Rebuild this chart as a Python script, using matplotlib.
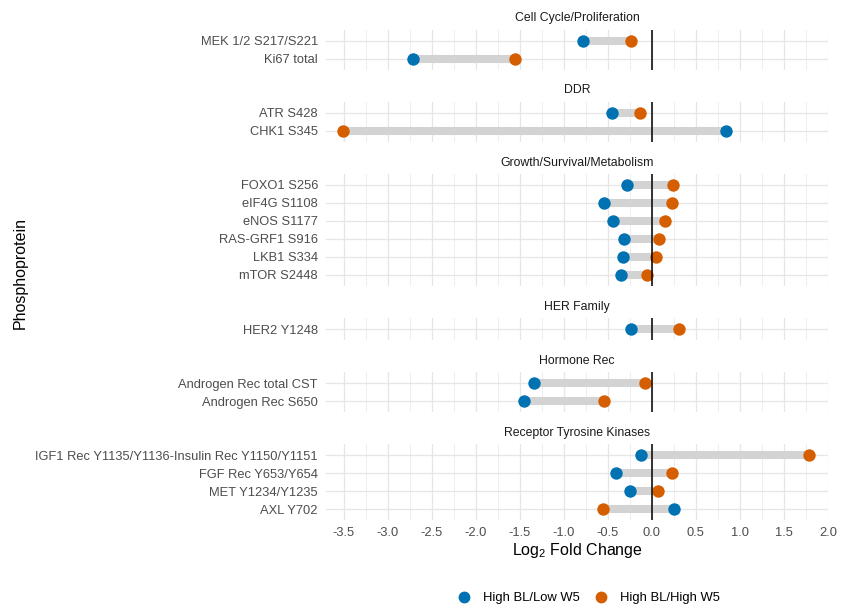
import matplotlib
matplotlib.use("Agg")
import matplotlib.pyplot as plt
from matplotlib.lines import Line2D
import numpy as np

plt.rcParams['font.family'] = ['Liberation Sans', 'DejaVu Sans']
plt.rcParams['mathtext.fontset'] = 'custom'
plt.rcParams['mathtext.rm'] = 'Liberation Sans'
plt.rcParams['axes.unicode_minus'] = False

# pathway groups, in the order they are stacked
groups = ["Cell Cycle/Proliferation", "DDR", "Growth/Survival/Metabolism",
          "HER Family", "Hormone Rec", "Receptor Tyrosine Kinases"]

proteins = [
    ["MEK 1/2 S217/S221", "Ki67 total"],
    ["ATR S428", "CHK1 S345"],
    ["FOXO1 S256", "eIF4G S1108", "eNOS S1177", "RAS-GRF1 S916", "LKB1 S334", "mTOR S2448"],
    ["HER2 Y1248"],
    ["Androgen Rec total CST", "Androgen Rec S650"],
    ["IGF1 Rec Y1135/Y1136-Insulin Rec Y1150/Y1151", "FGF Rec Y653/Y654",
     "MET Y1234/Y1235", "AXL Y702"],
]

# log2 fold change, High BL/Low W5
low_w5 = [
    [-0.78, -2.71],
    [-0.45, 0.84],
    [-0.28, -0.54, -0.44, -0.32, -0.33, -0.35],
    [-0.24],
    [-1.34, -1.45],
    [-0.12, -0.41, -0.25, 0.25],
]

# log2 fold change, High BL/High W5
high_w5 = [
    [-0.24, -1.55],
    [-0.14, -3.51],
    [0.24, 0.23, 0.15, 0.08, 0.05, -0.06],
    [0.31],
    [-0.08, -0.54],
    [1.78, 0.23, 0.07, -0.56],
]

blue = "#0072B2"
orange = "#D55E00"
W, H = 860, 606

fig = plt.figure(figsize=(8.6, 6.06), dpi=100)

row_px = 18.0
gap_px = 32.5
left_px, right_px = 326, 828
top = 29.9
axes = []
for gi, grp in enumerate(groups):
    n = len(proteins[gi])
    h = (n + 0.2) * row_px
    ax = fig.add_axes([left_px / W, 1 - (top + h) / H, (right_px - left_px) / W, h / H])
    top += h + gap_px
    axes.append(ax)

    y = np.arange(n)
    ax.hlines(y, low_w5[gi], high_w5[gi], color="#D3D3D3", lw=5.8, zorder=2)
    ax.scatter(low_w5[gi], y, s=80, color=blue, zorder=3, linewidths=0)
    ax.scatter(high_w5[gi], y, s=80, color=orange, zorder=3, linewidths=0)
    ax.axvline(0, color="black", lw=1.1, zorder=4)

    ax.set_xlim(-3.70, 2.0)
    ax.set_ylim(n - 1 + 0.6, -0.6)
    ax.set_yticks(y)
    ax.set_yticklabels(proteins[gi])
    ax.set_xticks(np.arange(-3.5, 2.01, 0.5))
    ax.set_xticks(np.arange(-3.25, 2.0, 0.5), minor=True)
    ax.xaxis.set_major_formatter(matplotlib.ticker.FormatStrFormatter('%.1f'))
    ax.grid(True, which='major', color="#E6E6E6", lw=0.9, zorder=0)
    ax.grid(True, which='minor', axis='x', color="#EBEBEB", lw=0.6, zorder=0)
    ax.set_axisbelow(True)
    for s in ax.spines.values():
        s.set_visible(False)
    ax.tick_params(which='both', length=0)
    ax.tick_params(axis='y', labelsize=9.3, labelcolor="#4D4D4D", pad=5.8)
    ax.tick_params(axis='x', labelsize=9.3, labelcolor="#4D4D4D", pad=5)
    if gi < len(groups) - 1:
        ax.tick_params(axis='x', labelbottom=False)

    ax.annotate(grp, xy=(0.5, 1), xycoords='axes fraction', xytext=(0, 8.3),
                textcoords='offset points', ha='center', va='center',
                fontsize=8.8, color="#1A1A1A")

fig.text(577 / W, 1 - 551 / H, "Log$_2$ Fold Change", ha='center', va='center',
         fontsize=11.5, color="black")
fig.text(20 / W, 1 - 273 / H, "Phosphoprotein", rotation=90, ha='center', va='center',
         fontsize=11.5, color="black")

handles = [Line2D([], [], marker='o', ls='', color=blue, markersize=7.5),
           Line2D([], [], marker='o', ls='', color=orange, markersize=7.5)]
fig.legend(handles, ["High BL/Low W5", "High BL/High W5"], loc='center',
           bbox_to_anchor=(588 / W, 1 - 598 / H), ncol=2, frameon=False,
           fontsize=9.4, handletextpad=0.9, columnspacing=1.0, handlelength=1.2)

fig.savefig("out.png", dpi=100)
